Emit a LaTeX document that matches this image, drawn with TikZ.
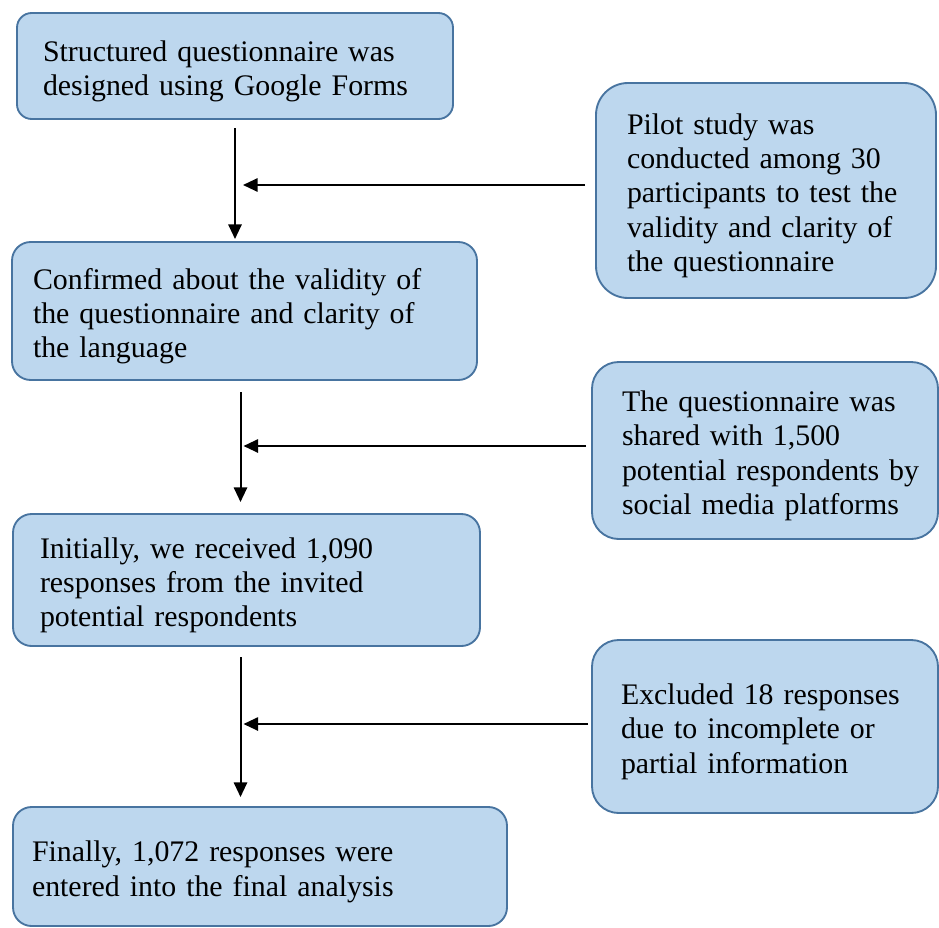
\documentclass[tikz,border=0pt]{standalone}
\usepackage{fontspec}
\setmainfont{Liberation Serif}
\usetikzlibrary{arrows.meta}
\definecolor{boxfill}{RGB}{189,215,238}
\definecolor{boxline}{RGB}{72,116,160}
\newcommand\tfix{\rule{0pt}{23.5pt}}
\tikzset{
  box/.style={draw=boxline, fill=boxfill, line width=1.4pt, align=left,
    font=\fontsize{22.4}{25.6}\selectfont, inner ysep=0pt, anchor=center},
  arr/.style={line width=1.5pt, -{Triangle[length=11pt,width=10pt]}}
}
\begin{document}
\begin{tikzpicture}[x=0.75pt,y=-0.75pt]
\useasboundingbox (0,0) rectangle (939,928);
\node[box, rounded corners=11pt, minimum width=436*0.75pt, minimum height=106*0.75pt,
  inner xsep=26*0.75pt, text width=384*0.75pt] (b1) at (235,66)
  {\tfix Structured questionnaire was\\designed using Google Forms};
\node[box, rounded corners=14pt, minimum width=465*0.75pt, minimum height=138*0.75pt,
  inner xsep=21*0.75pt, text width=423*0.75pt] (b2) at (244.5,311)
  {\tfix Confirmed about the validity of\\the questionnaire and clarity of\\the language};
\node[box, rounded corners=14pt, minimum width=467*0.75pt, minimum height=132*0.75pt,
  inner xsep=27*0.75pt, text width=413*0.75pt] (b3) at (246.5,580)
  {\tfix Initially, we received 1,090\\responses from the invited\\potential respondents};
\node[box, rounded corners=14pt, minimum width=494*0.75pt, minimum height=119*0.75pt,
  inner xsep=19*0.75pt, text width=456*0.75pt] (b4) at (260,866.5)
  {\tfix Finally, 1,072 responses were\\entered into the final analysis};
\node[box, rounded corners=24pt, minimum width=340*0.75pt, minimum height=215*0.75pt,
  inner xsep=31*0.75pt, text width=278*0.75pt] (p) at (766,190.5)
  {\tfix Pilot study was\\conducted among 30\\\mbox{participants to test the}\\\mbox{validity and clarity of}\\the questionnaire};
\node[box, rounded corners=20pt, minimum width=346*0.75pt, minimum height=177*0.75pt,
  inner xsep=30*0.75pt, text width=286*0.75pt] (q) at (765,450.5)
  {\tfix \mbox{The questionnaire was}\\shared with 1,500\\\mbox{potential respondents by}\\\mbox{social media platforms}};
\node[box, rounded corners=20pt, minimum width=346*0.75pt, minimum height=173*0.75pt,
  inner xsep=29*0.75pt, text width=288*0.75pt] (r) at (765,726.5)
  {\tfix \mbox{Excluded 18 responses}\\due to incomplete or\\partial information};
\coordinate (v1a) at (235,128);
\coordinate (v1b) at (235,239);
\coordinate (h1a) at (585,185);
\coordinate (h1b) at (243,185);
\coordinate (v2a) at (240.5,392);
\coordinate (v2b) at (240.5,502);
\coordinate (h2a) at (586,446);
\coordinate (h2b) at (243.5,446);
\coordinate (v3a) at (240.5,657);
\coordinate (v3b) at (240.5,797);
\coordinate (h3a) at (588,724);
\coordinate (h3b) at (243.5,724);
\draw[arr] (v1a) -- (v1b);
\draw[arr] (h1a) -- (h1b);
\draw[arr] (v2a) -- (v2b);
\draw[arr] (h2a) -- (h2b);
\draw[arr] (v3a) -- (v3b);
\draw[arr] (h3a) -- (h3b);
\end{tikzpicture}
\end{document}
